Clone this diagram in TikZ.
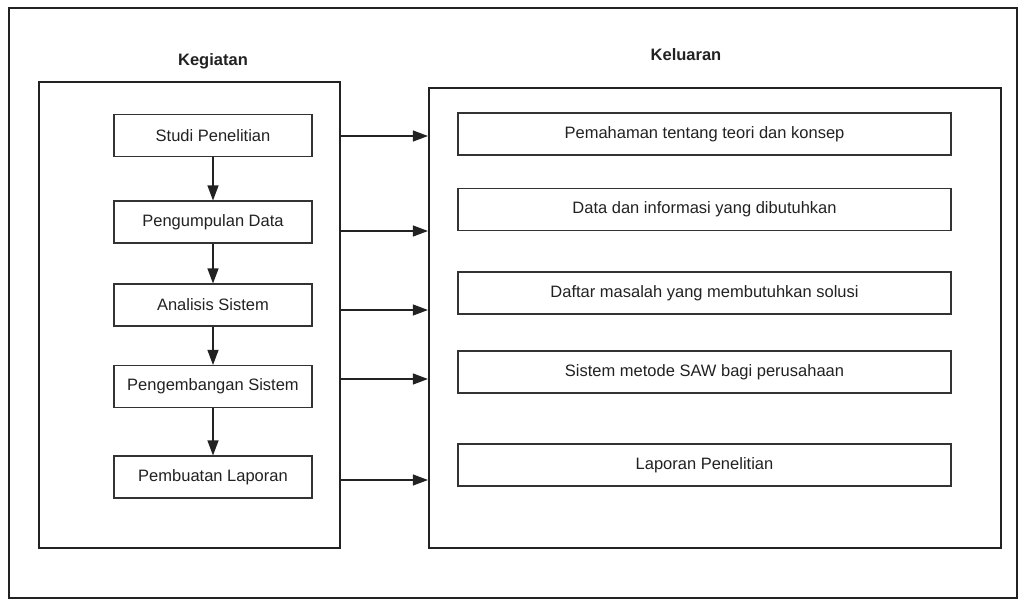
\documentclass[tikz,border=0pt]{standalone}
\usepackage{fontspec}
\setmainfont{Liberation Sans}
\usetikzlibrary{arrows.meta}
\definecolor{ink}{HTML}{222222}
\definecolor{boxline}{HTML}{333333}
\begin{document}
\begin{tikzpicture}[x=1pt,y=-1pt,
  frame/.style={draw=ink,line width=2.2pt},
  stepbox/.style={draw=boxline,line width=1.1pt,minimum height=42pt,inner sep=0pt,
     font=\fontsize{16.5}{19}\selectfont,text=ink},
  lbox/.style={stepbox,minimum width=198pt},
  rbox/.style={stepbox,minimum width=493pt},
  title/.style={font=\fontsize{16.5}{19}\selectfont\bfseries,text=ink},
  conn/.style={draw=ink,line width=1.1pt,-{Triangle[length=15pt,width=11pt]}}]
\useasboundingbox (0,0) rectangle (1024,602);
\fill[white] (0,0) rectangle (1024,602);
\draw[frame] (9,8) rectangle (1017,598);
\node[frame,minimum width=301pt,minimum height=466pt,inner sep=0pt] (left) at (189.5,315) {};
\node[frame,minimum width=572pt,minimum height=460pt,inner sep=0pt] (right) at (715,318) {};
\node[title] (kg) at (213,61) {Kegiatan};
\node[title] (kl) at (686,55) {Keluaran};
\node[lbox] (a1) at (213,135.5) {Studi Penelitian};
\node[lbox] (a2) at (213,222) {Pengumpulan Data};
\node[lbox] (a3) at (213,305) {Analisis Sistem};
\node[lbox] (a4) at (213,386.5) {Pengembangan Sistem};
\node[lbox] (a5) at (213,477) {Pembuatan Laporan};
\node[rbox] (b1) at (704.5,134) {Pemahaman tentang teori dan konsep};
\node[rbox] (b2) at (704.5,209.5) {Data dan informasi yang dibutuhkan};
\node[rbox] (b3) at (704.5,293) {Daftar masalah yang membutuhkan solusi};
\node[rbox] (b4) at (704.5,372) {Sistem metode SAW bagi perusahaan};
\node[rbox] (b5) at (704.5,465) {Laporan Penelitian};
\draw[conn] (a1) -- (a2);
\draw[conn] (a2) -- (a3);
\draw[conn] (a3) -- (a4);
\draw[conn] (a4) -- (a5);
\foreach \i/\y in {1/136,2/231,3/310,4/379,5/480}{
  \coordinate (s\i) at (left.east |- 0,\y);
  \coordinate (t\i) at (right.west |- 0,\y);
  \draw[conn] (s\i) -- (t\i);
}
\end{tikzpicture}
\end{document}
